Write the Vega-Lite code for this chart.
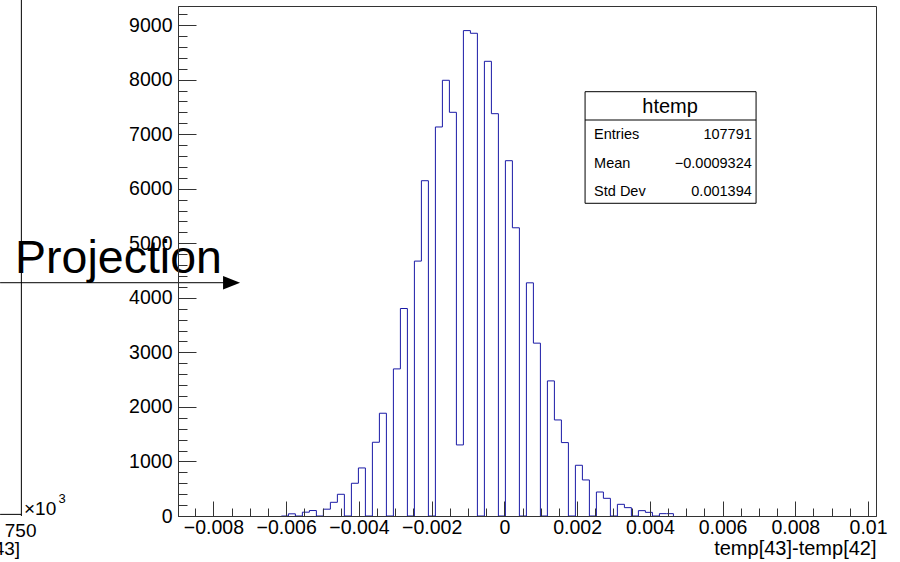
{
  "$schema": "https://vega.github.io/schema/vega-lite/v6.json",
  "width": 698,
  "height": 510,
  "autosize": {"type": "none"},
  "padding": {"left": 178, "top": 6, "right": 24, "bottom": 46},
  "background": "white",
  "config": {
    "font": "Liberation Sans",
    "view": {"stroke": "#333333", "strokeWidth": 1}
  },
  "resolve": {"axis": {"x": "independent", "y": "independent"}},
  "layer": [
    {
      "data": {"values": [
        {"x": -0.006132, "count": 0},
        {"x": -0.0059395, "count": 40},
        {"x": -0.005747, "count": 0},
        {"x": -0.0055545, "count": 70},
        {"x": -0.005362, "count": 100},
        {"x": -0.0051695, "count": 0},
        {"x": -0.004977, "count": 125},
        {"x": -0.0047845, "count": 251},
        {"x": -0.004592, "count": 398},
        {"x": -0.0043995, "count": 0},
        {"x": -0.004207, "count": 600},
        {"x": -0.0040145, "count": 881},
        {"x": -0.003822, "count": 0},
        {"x": -0.0036295, "count": 1352},
        {"x": -0.003437, "count": 1884},
        {"x": -0.0032445, "count": 0},
        {"x": -0.003052, "count": 2697},
        {"x": -0.0028595, "count": 3804},
        {"x": -0.002667, "count": 0},
        {"x": -0.0024745, "count": 4673},
        {"x": -0.002282, "count": 6147},
        {"x": -0.0020895, "count": 0},
        {"x": -0.001897, "count": 7132},
        {"x": -0.0017045, "count": 7988},
        {"x": -0.001512, "count": 7401},
        {"x": -0.0013195, "count": 1303},
        {"x": -0.001127, "count": 8899},
        {"x": -0.0009345, "count": 8850},
        {"x": -0.000742, "count": 0},
        {"x": -0.0005495, "count": 8336},
        {"x": -0.000357, "count": 7376},
        {"x": -0.0001645, "count": 0},
        {"x": 0.000028, "count": 6514},
        {"x": 0.0002205, "count": 5284},
        {"x": 0.000413, "count": 0},
        {"x": 0.0006055, "count": 4275},
        {"x": 0.000798, "count": 3169},
        {"x": 0.0009905, "count": 0},
        {"x": 0.001183, "count": 2477},
        {"x": 0.0013755, "count": 1761},
        {"x": 0.001568, "count": 1346},
        {"x": 0.0017605, "count": 0},
        {"x": 0.001953, "count": 930},
        {"x": 0.0021455, "count": 661},
        {"x": 0.002338, "count": 0},
        {"x": 0.0025305, "count": 440},
        {"x": 0.002723, "count": 324},
        {"x": 0.0029155, "count": 0},
        {"x": 0.003108, "count": 214},
        {"x": 0.0033005, "count": 153},
        {"x": 0.003493, "count": 0},
        {"x": 0.0036855, "count": 98},
        {"x": 0.003878, "count": 67},
        {"x": 0.0040705, "count": 0},
        {"x": 0.004263, "count": 43},
        {"x": 0.0044555, "count": 43},
        {"x": 0.004648, "count": 0}
      ]},
      "mark": {"type": "line", "interpolate": "step-after", "color": "#1a1aa6", "strokeWidth": 1},
      "encoding": {
        "x": {
          "field": "x", "type": "quantitative",
          "scale": {"domain": [-0.008975, 0.010219], "nice": false, "zero": false},
          "axis": {
            "orient": "bottom",
            "values": [-0.008, -0.006, -0.004, -0.002, 0, 0.002, 0.004, 0.006, 0.008, 0.01],
            "format": "~g",
            "tickSize": -15,
            "tickColor": "#333333",
            "tickWidth": 1,
            "labelPadding": 17,
            "labelFontSize": 19.5,
            "labelColor": "black",
            "labelFlush": false,
            "labelOverlap": false,
            "domain": true,
            "domainColor": "#333333",
            "grid": false,
            "title": "temp[43]-temp[42]",
            "titleAnchor": "end",
            "titleFontSize": 20,
            "titleFontWeight": "normal",
            "titleColor": "black",
            "titlePadding": 2,
            "zindex": 1
          }
        },
        "y": {
          "field": "count", "type": "quantitative",
          "scale": {"domain": [0, 9350], "nice": false},
          "axis": {
            "orient": "left",
            "values": [0, 1000, 2000, 3000, 4000, 5000, 6000, 7000, 8000, 9000],
            "format": "d",
            "tickSize": -18,
            "tickColor": "#333333",
            "tickWidth": 1,
            "labelPadding": 24,
            "labelFontSize": 19.5,
            "labelColor": "black",
            "labelFlush": false,
            "labelOverlap": false,
            "domain": true,
            "domainColor": "#333333",
            "grid": false,
            "title": null,
            "zindex": 1
          }
        }
      }
    },
    {
      "data": {"values": [{}]},
      "mark": {"type": "point", "opacity": 0},
      "encoding": {
        "x": {"datum": 0, "axis": {
          "orient": "bottom",
          "values": [-0.0085, -0.0075, -0.007, -0.0065, -0.0055, -0.005, -0.0045, -0.0035, -0.003, -0.0025, -0.0015, -0.001, -0.0005, 0.0005, 0.001, 0.0015, 0.0025, 0.003, 0.0035, 0.0045, 0.005, 0.0055, 0.0065, 0.007, 0.0075, 0.0085, 0.009, 0.0095],
          "tickSize": -8, "tickColor": "#333333", "tickWidth": 1,
          "labels": false, "domain": false, "grid": false, "title": null, "zindex": 1
        }},
        "y": {"datum": 0, "axis": {
          "orient": "left",
          "values": [200, 400, 600, 800, 1200, 1400, 1600, 1800, 2200, 2400, 2600, 2800, 3200, 3400, 3600, 3800, 4200, 4400, 4600, 4800, 5200, 5400, 5600, 5800, 6200, 6400, 6600, 6800, 7200, 7400, 7600, 7800, 8200, 8400, 8600, 8800, 9200],
          "tickSize": -9, "tickColor": "#333333", "tickWidth": 1,
          "labels": false, "domain": false, "grid": false, "title": null, "zindex": 1
        }}
      }
    },
    {
      "data": {"values": [{}]},
      "mark": {"type": "rect", "fill": "white", "stroke": "black", "strokeWidth": 1},
      "encoding": {
        "x": {"datum": 0.002219, "axis": null}, "x2": {"datum": 0.006921},
        "y": {"datum": 5733, "axis": null}, "y2": {"datum": 7779}
      }
    },
    {
      "data": {"values": [{}]},
      "mark": {"type": "rule", "color": "black", "strokeWidth": 1},
      "encoding": {
        "x": {"datum": 0.002219, "axis": null}, "x2": {"datum": 0.006921},
        "y": {"datum": 7260, "axis": null}
      }
    },
    {
      "data": {"values": [{}]},
      "mark": {"type": "text", "fontSize": 20, "align": "center", "baseline": "middle", "color": "black"},
      "encoding": {
        "x": {"datum": 0.004557, "axis": null}, "y": {"datum": 7504, "axis": null},
        "text": {"value": "htemp"}
      }
    },
    {
      "data": {"values": [{}]},
      "mark": {"type": "text", "fontSize": 14.5, "align": "left", "baseline": "middle", "lineHeight": 28.5, "color": "black"},
      "encoding": {
        "x": {"datum": 0.002467, "axis": null}, "y": {"datum": 6985, "axis": null},
        "text": {"value": ["Entries", "Mean", "Std Dev"]}
      }
    },
    {
      "data": {"values": [{}]},
      "mark": {"type": "text", "fontSize": 14.5, "align": "right", "baseline": "middle", "lineHeight": 28.5, "color": "black"},
      "encoding": {
        "x": {"datum": 0.006803, "axis": null}, "y": {"datum": 6985, "axis": null},
        "text": {"value": ["107791", "−0.0009324", "0.001394"]}
      }
    },
    {
      "data": {"values": [{}]},
      "mark": {"type": "rule", "color": "black", "strokeWidth": 1},
      "encoding": {
        "x": {"datum": -0.013282, "axis": null},
        "y": {"datum": 0, "axis": null}, "y2": {"datum": 9460}
      }
    },
    {
      "data": {"values": [{}]},
      "mark": {"type": "rule", "color": "black", "strokeWidth": 1},
      "encoding": {
        "x": {"datum": -0.013867, "axis": null}, "x2": {"datum": -0.013282},
        "y": {"datum": 30, "axis": null}
      }
    },
    {
      "data": {"values": [{}]},
      "mark": {"type": "text", "fontSize": 19, "align": "left", "baseline": "alphabetic", "color": "black"},
      "encoding": {
        "x": {"datum": -0.01321, "axis": null}, "y": {"datum": 18, "axis": null},
        "text": {"value": "×10"}
      }
    },
    {
      "data": {"values": [{}]},
      "mark": {"type": "text", "fontSize": 13, "align": "left", "baseline": "alphabetic", "color": "black"},
      "encoding": {
        "x": {"datum": -0.01226, "axis": null}, "y": {"datum": 238, "axis": null},
        "text": {"value": "3"}
      }
    },
    {
      "data": {"values": [{}]},
      "mark": {"type": "text", "fontSize": 19, "align": "center", "baseline": "alphabetic", "color": "black"},
      "encoding": {
        "x": {"datum": -0.013303, "axis": null}, "y": {"datum": -385, "axis": null},
        "text": {"value": "750"}
      }
    },
    {
      "data": {"values": [{}]},
      "mark": {"type": "text", "fontSize": 19, "align": "right", "baseline": "alphabetic", "color": "black"},
      "encoding": {
        "x": {"datum": -0.013317, "axis": null}, "y": {"datum": -715, "axis": null},
        "text": {"value": "temp[43]"}
      }
    },
    {
      "data": {"values": [{}]},
      "mark": {"type": "rule", "color": "black", "strokeWidth": 1},
      "encoding": {
        "x": {"datum": -0.013867, "axis": null}, "x2": {"datum": -0.0076},
        "y": {"datum": 4277, "axis": null}
      }
    },
    {
      "data": {"values": [{}]},
      "mark": {"type": "point", "shape": "M-1,-0.8L1,0L-1,0.8Z", "size": 289, "filled": true, "color": "black", "opacity": 1},
      "encoding": {
        "x": {"datum": -0.0075015, "axis": null},
        "y": {"datum": 4277, "axis": null}
      }
    },
    {
      "data": {"values": [{}]},
      "mark": {"type": "text", "fontSize": 46.5, "align": "left", "baseline": "alphabetic", "color": "black"},
      "encoding": {
        "x": {"datum": -0.013455, "axis": null}, "y": {"datum": 4446, "axis": null},
        "text": {"value": "Projection"}
      }
    }
  ]
}
